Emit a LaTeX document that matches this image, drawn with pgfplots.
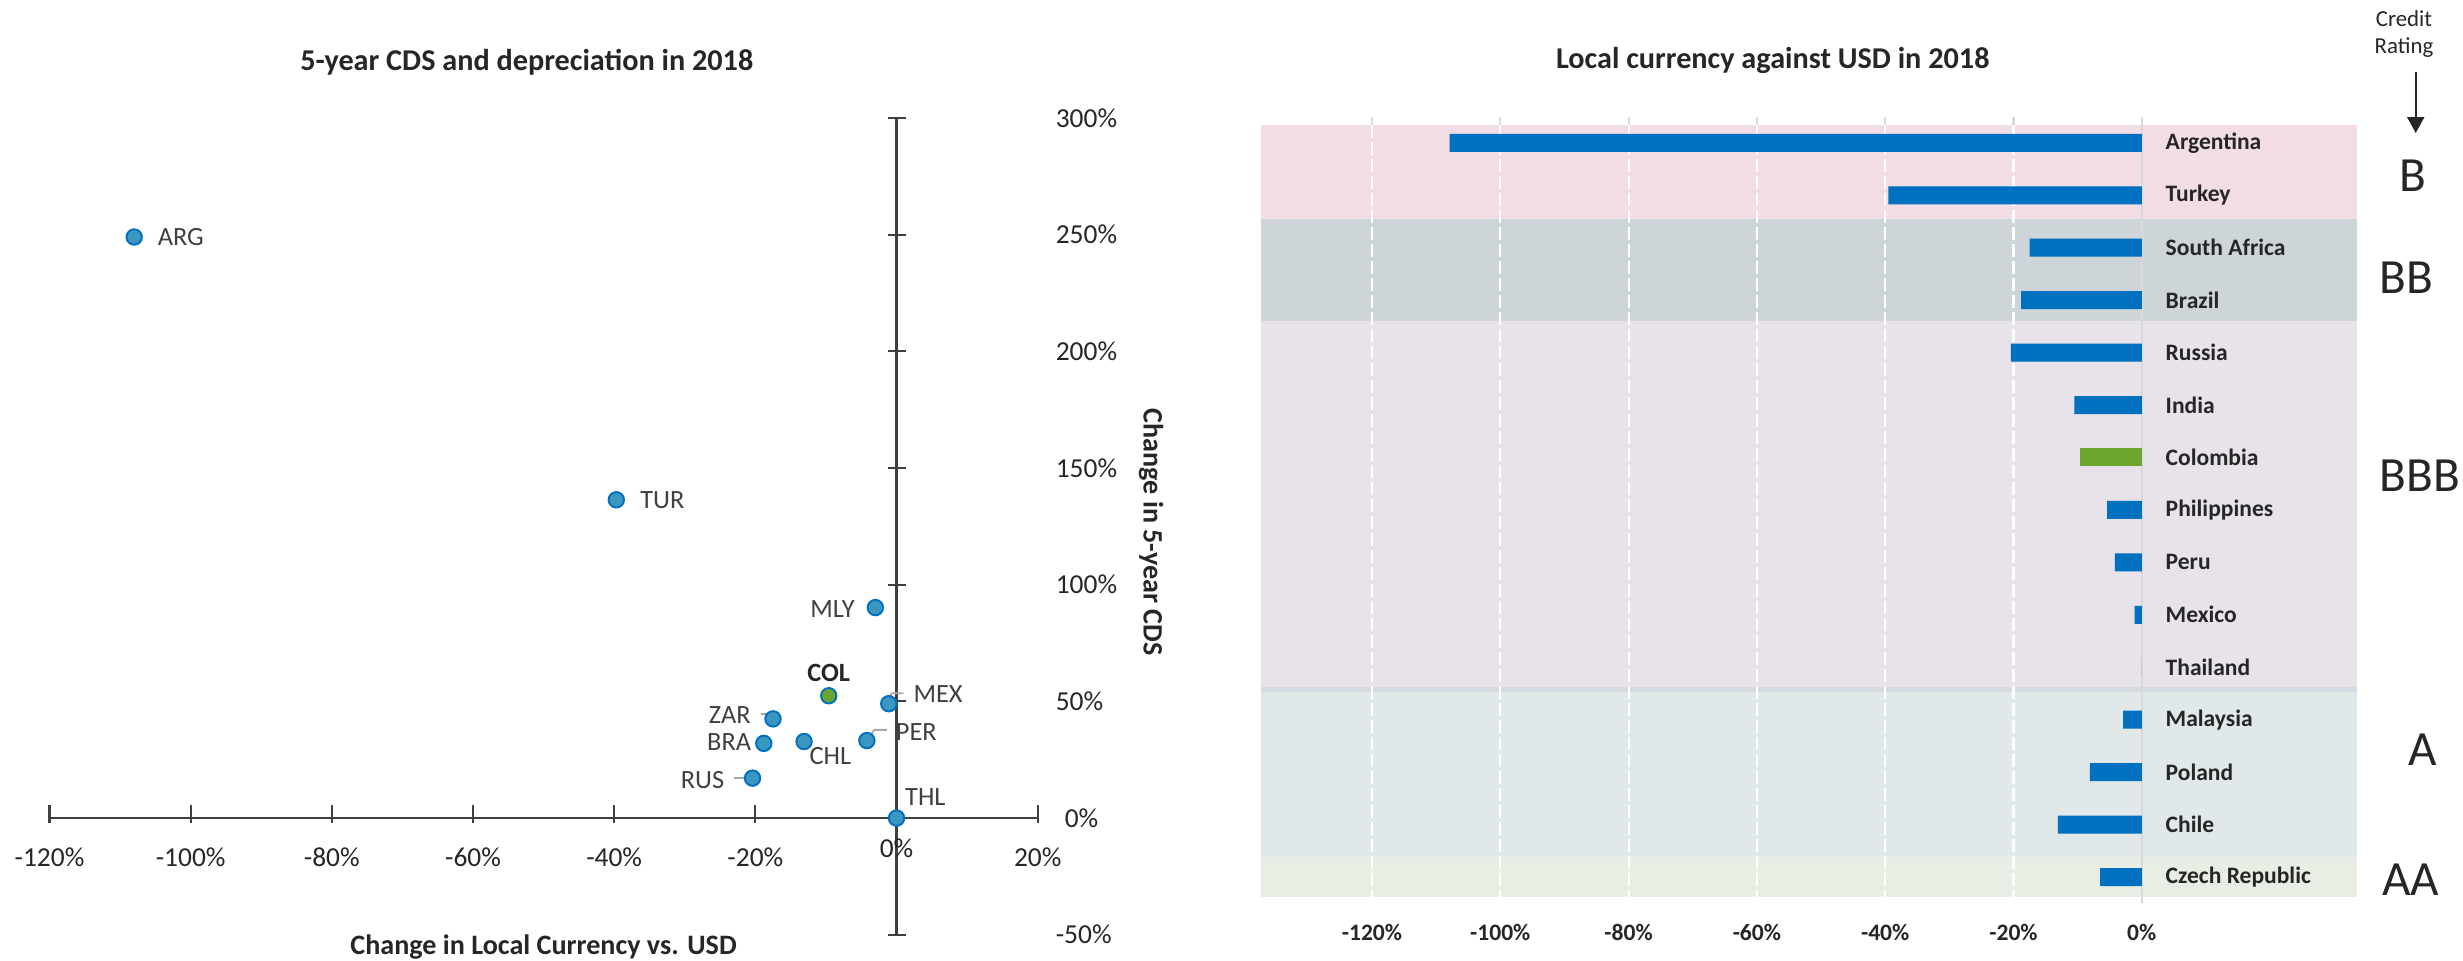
\documentclass[border=0pt]{standalone}
\usepackage{pgfplots}
\pgfplotsset{compat=1.18}
\usepackage{pgfplotstable}
\usepackage{fontspec}
\setmainfont{Carlito}
\usetikzlibrary{arrows.meta}
\definecolor{txt}{HTML}{262626}
\definecolor{labgray}{HTML}{404040}
\definecolor{axgray}{HTML}{404040}
\definecolor{barblue}{HTML}{0070C0}
\definecolor{colgreen}{HTML}{6AA62F}
\definecolor{dotfill}{HTML}{3A98C0}
\definecolor{bandB}{HTML}{F2DDE4}
\definecolor{bandBB}{HTML}{CDD5D8}
\definecolor{bandBBB}{HTML}{E8E2EA}
\definecolor{bandA}{HTML}{E0E8EA}
\definecolor{bandAA}{HTML}{E8EEE3}
\definecolor{bandline}{HTML}{D3DAE1}
\definecolor{leader}{HTML}{A6A6A6}
\definecolor{zeroline}{HTML}{D9D9D9}

\pgfplotstableread{
x y
-108.0 249.0
-39.7 136.4
-3.0 90.2
-1.1 49.0
-17.5 42.5
-18.8 32.0
-13.1 32.8
-4.2 33.2
-20.4 17.1
0 0
}\scatterdata

\pgfplotstableread{
x y
-107.9 0
-39.5 1
-17.5 2
-18.8 3
-20.4 4
-10.5 5
-5.4 7
-4.2 8
-1.1 9
0 10
-2.9 11
-8.1 12
-13.1 13
-6.5 14
}\bardata

\tikzset{lbl/.style={anchor=center, inner sep=0pt, font=\fontsize{7.5}{9}\selectfont, text=labgray}}

\begin{document}
\begin{tikzpicture}
\useasboundingbox (0,0) rectangle (24.63,9.6);
% ---------------- left: scatter ----------------
\begin{axis}[
  at={(0.495cm,0.253cm)}, anchor=south west, scale only axis,
  width=9.882cm, height=8.167cm,
  xmin=-120, xmax=20, ymin=-50, ymax=300,
  axis lines=middle,
  axis line style={-, draw=axgray, line width=0.6pt},
  xtick={-120,-100,...,20},
  xticklabels={-120\%,-100\%,-80\%,-60\%,-40\%,-20\%,0\%,20\%},
  ytick={-50,0,...,300},
  yticklabels={-50\%,0\%,50\%,100\%,150\%,200\%,250\%,300\%},
  tick align=center, major tick length=0.18cm,
  tick style={draw=axgray, line width=0.6pt},
  x tick style={yshift=0.045cm},
  xticklabel style={font=\fontsize{7.8}{9}\selectfont, text=txt, inner sep=0pt, anchor=north, yshift=-0.20cm},
  yticklabel style={font=\fontsize{7.8}{9}\selectfont, text=txt, inner sep=0pt, anchor=west, xshift=1.676cm},
  xlabel={Change in Local Currency vs. USD},
  ylabel={Change in 5-year CDS},
  title={5-year CDS and depreciation in 2018},
  every axis x label/.style={at={(axis description cs:0.5,-0.0151)}, anchor=center, font=\bfseries\fontsize{8}{9}\selectfont, text=txt},
  every axis y label/.style={at={(axis description cs:1.1147,0.4931)}, anchor=center, rotate=-90, font=\bfseries\fontsize{8}{9}\selectfont, text=txt},
  every axis title/.style={at={(axis description cs:0.483,1.0686)}, anchor=center, font=\bfseries\fontsize{8.6}{10}\selectfont, text=txt},
  clip=false,
]
% origin tick labels (hidden by the middle axis lines)
\node[anchor=north, inner sep=0pt, yshift=-0.20cm, font=\fontsize{7.8}{9}\selectfont, text=txt] at (axis cs:0,0) {0\%};
\node[anchor=west, inner sep=0pt, xshift=1.676cm, font=\fontsize{7.8}{9}\selectfont, text=txt] at (axis cs:0,0) {0\%};
% leader lines
\draw[leader, line width=0.5pt] ([xshift=-0.123cm,yshift=0.05cm]axis cs:-17.5,42.5) -- ([yshift=0.05cm]axis cs:-17.5,42.5);
\draw[leader, line width=0.5pt] ([xshift=-0.19cm]axis cs:-20.4,17.1) -- (axis cs:-20.4,17.1);
\draw[leader, line width=0.5pt] ([xshift=0.2cm,yshift=0.107cm]axis cs:-4.2,33.2) -- ([xshift=0.073cm,yshift=0.107cm]axis cs:-4.2,33.2) -- (axis cs:-4.2,33.2);
\draw[leader, line width=0.5pt] ([xshift=0.007cm,yshift=0.047cm]axis cs:-1.1,49) -- ([xshift=0.027cm,yshift=0.104cm]axis cs:-1.1,49) -- ([xshift=0.147cm,yshift=0.104cm]axis cs:-1.1,49);
\addplot[only marks, mark=*, mark size=2.2pt,
  mark options={fill=dotfill, draw=barblue, line width=0.55pt},
] table[x=x, y=y] {\scatterdata};
\addplot[only marks, mark=*, mark size=2.2pt,
  mark options={fill=colgreen, draw=barblue, line width=0.55pt},
] coordinates {(-9.6,52.4)};
% data labels
\node[lbl, xshift=0.466cm] at (axis cs:-108.0,249.0) {ARG};
\node[lbl, xshift=0.46cm] at (axis cs:-39.7,136.4) {TUR};
\node[lbl, xshift=-0.428cm, yshift=-0.017cm] at (axis cs:-3.0,90.2) {MLY};
\node[lbl, xshift=0.493cm, yshift=0.097cm] at (axis cs:-1.1,49.0) {MEX};
\node[lbl, xshift=-0.433cm, yshift=0.04cm] at (axis cs:-17.5,42.5) {ZAR};
\node[lbl, xshift=-0.347cm, yshift=0.01cm] at (axis cs:-18.8,32.0) {BRA};
\node[lbl, xshift=0.263cm, yshift=-0.15cm] at (axis cs:-13.1,32.8) {CHL};
\node[lbl, xshift=0.495cm, yshift=0.09cm] at (axis cs:-4.2,33.2) {PER};
\node[lbl, xshift=-0.50cm, yshift=-0.017cm] at (axis cs:-20.4,17.1) {RUS};
\node[lbl, xshift=0.288cm, yshift=0.21cm] at (axis cs:0,0) {THL};
\node[lbl, font=\bfseries\fontsize{7.5}{9}\selectfont, text=txt, yshift=0.23cm] at (axis cs:-9.6,52.4) {COL};
\end{axis}

% ---------------- right: bars ----------------
\begin{axis}[
  at={(12.61cm,0.568cm)}, anchor=south west, scale only axis,
  width=10.963cm, height=7.866cm,
  xmin=-137.3, xmax=33.6, ymin=-0.5, ymax=14.5, y dir=reverse,
  axis on top,
  axis line style={draw=none}, tick style={draw=none}, major tick length=0pt,
  xtick={-120,-100,...,0},
  xticklabels={-120\%,-100\%,-80\%,-60\%,-40\%,-20\%,0\%},
  ytick={0,...,14},
  yticklabels={Argentina,Turkey,South Africa,Brazil,Russia,India,Colombia,Philippines,Peru,Mexico,Thailand,Malaysia,Poland,Chile,Czech Republic},
  yticklabel pos=right,
  yticklabel style={font=\bfseries\fontsize{6.7}{8}\selectfont, text=txt, inner sep=0pt, anchor=west, xshift=-1.923cm},
  xticklabel style={font=\bfseries\fontsize{6.7}{8}\selectfont, text=txt, inner sep=0pt, anchor=north, yshift=-0.20cm},
  title={Local currency against USD in 2018},
  every axis title/.style={at={(axis description cs:0.4668,1.0716)}, anchor=center, font=\bfseries\fontsize{8.6}{10}\selectfont, text=txt},
  clip=false,
]
\fill[bandB] (axis cs:-137.3,-0.34) rectangle (axis cs:33.6,1.46);
\fill[bandBB] (axis cs:-137.3,1.46) rectangle (axis cs:33.6,3.39);
\fill[bandBBB] (axis cs:-137.3,3.39) rectangle (axis cs:33.6,10.37);
\fill[bandA] (axis cs:-137.3,10.37) rectangle (axis cs:33.6,13.625);
\fill[bandAA] (axis cs:-137.3,13.625) rectangle (axis cs:33.6,14.39);
\draw[bandline, line width=1.3pt] (axis cs:-137.3,10.42) -- (axis cs:33.6,10.42);
\pgfplotsinvokeforeach{-120,-100,-80,-60,-40,-20}{
  \draw[zeroline, line width=0.6pt] (axis cs:#1,-0.5) -- (axis cs:#1,-0.34);
  \draw[white, line width=0.6pt, dash pattern=on 0.13cm off 0.04cm] (axis cs:#1,-0.34) -- (axis cs:#1,14.5);
}
\draw[zeroline, line width=0.6pt] (axis cs:0,-0.5) -- (axis cs:0,14.5);
\addplot[xbar, bar width=0.18cm, bar shift=0pt, fill=barblue, draw=none] table[x=x, y=y] {\bardata};
\addplot[xbar, bar width=0.18cm, bar shift=0pt, fill=colgreen, draw=none] coordinates {(-9.6,6)};
\end{axis}

% ---------------- credit ratings ----------------
\node[font=\fontsize{6.5}{8}\selectfont, text=txt] at (24.04,9.41) {Credit};
\node[font=\fontsize{6.5}{8}\selectfont, text=txt] at (24.04,9.12) {Rating};
\draw[txt, line width=0.6pt, -{Triangle[width=0.17cm,length=0.16cm]}] (24.157,8.88) -- (24.157,8.27);
\node[font=\fontsize{14}{16}\selectfont, text=txt] at (24.13,7.84) {B};
\node[font=\fontsize{14}{16}\selectfont, text=txt] at (24.067,6.82) {BB};
\node[font=\fontsize{14}{16}\selectfont, text=txt] at (24.20,4.84) {BBB};
\node[font=\fontsize{14}{16}\selectfont, text=txt] at (24.23,2.10) {A};
\node[font=\fontsize{14}{16}\selectfont, text=txt] at (24.108,0.803) {AA};
\end{tikzpicture}
\end{document}
